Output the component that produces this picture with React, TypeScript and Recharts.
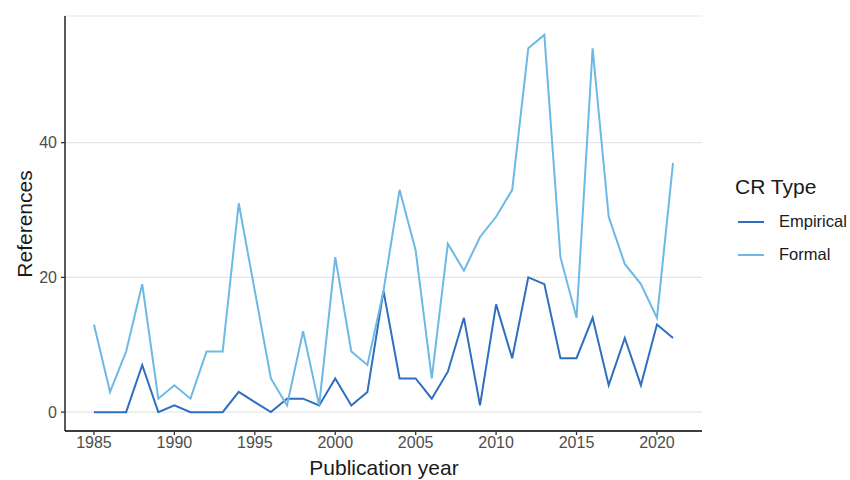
import { LineChart, Line, XAxis, YAxis, CartesianGrid } from 'recharts'

const years = [
  1985, 1986, 1987, 1988, 1989, 1990, 1991, 1992, 1993, 1994, 1995, 1996, 1997,
  1998, 1999, 2000, 2001, 2002, 2003, 2004, 2005, 2006, 2007, 2008, 2009, 2010,
  2011, 2012, 2013, 2014, 2015, 2016, 2017, 2018, 2019, 2020, 2021,
]
const empirical = [
  0, 0, 0, 7, 0, 1, 0, 0, 0, 3, 1.5, 0, 2, 2, 1, 5, 1, 3, 18, 5, 5, 2, 6, 14, 1,
  16, 8, 20, 19, 8, 8, 14, 4, 11, 4, 13, 11,
]
const formal = [
  13, 3, 9, 19, 2, 4, 2, 9, 9, 31, 18, 5, 1, 12, 1, 23, 9, 7, 18, 33, 24, 5, 25,
  21, 26, 29, 33, 54, 56, 23, 14, 54, 29, 22, 19, 14, 37,
]
const xTicks = [1985, 1990, 1995, 2000, 2005, 2010, 2015, 2020]
const yTicks = [0, 20, 40]

const series = [
  { key: 'Empirical', color: '#2f6fbf' },
  { key: 'Formal', color: '#6cb9e6' },
]

const data = years.map((y, i) => ({ year: y, Empirical: empirical[i], Formal: formal[i] }))

const font = '"Liberation Sans", Arial, sans-serif'
const tickStyle = { fill: '#4d4d4d', fontSize: 16, fontFamily: font }

export default function App() {
  return (
    <div style={{ position: 'absolute', left: 0, top: 0, width: 850, height: 480, background: '#fff', fontFamily: font }}>
      <LineChart width={850} height={480} data={data} margin={{ top: 16, right: 148, bottom: 19, left: 10 }}>
        <CartesianGrid vertical={false} stroke="#e6e6e6" strokeWidth={1.2} />
        <XAxis
          dataKey="year"
          type="number"
          domain={[1983.2, 2022.8]}
          ticks={xTicks}
          allowDataOverflow
          height={30}
          stroke="#000"
          strokeWidth={1.3}
          tick={tickStyle}
          tickLine={{ stroke: '#333' }}
          tickSize={4}
          tickMargin={2}
        />
        <YAxis
          type="number"
          domain={[-2.8, 58.8]}
          ticks={yTicks}
          allowDataOverflow
          width={55}
          stroke="#000"
          strokeWidth={1.3}
          tick={tickStyle}
          tickLine={{ stroke: '#333' }}
          tickSize={4}
          tickMargin={4}
        />
        {series.map((s) => (
          <Line
            key={s.key}
            type="linear"
            dataKey={s.key}
            stroke={s.color}
            strokeWidth={2}
            dot={false}
            isAnimationActive={false}
          />
        ))}
      </LineChart>

      <div style={{ position: 'absolute', left: 735, top: 174 }}>
        <div style={{ fontSize: 21, lineHeight: '26px', color: '#1a1a1a', marginBottom: 5 }}>CR Type</div>
        {series.map((s) => (
          <div key={s.key} style={{ display: 'flex', alignItems: 'center', height: 33 }}>
            <span style={{ width: 26, height: 2, background: s.color, marginLeft: 3, marginRight: 15 }} />
            <span style={{ fontSize: 16.5, color: '#1a1a1a' }}>{s.key}</span>
          </div>
        ))}
      </div>

      <div
        style={{
          position: 'absolute',
          left: 384,
          top: 468,
          transform: 'translate(-50%, -50%)',
          fontSize: 21,
          color: '#1a1a1a',
          whiteSpace: 'nowrap',
        }}
      >
        Publication year
      </div>
      <div
        style={{
          position: 'absolute',
          left: 25,
          top: 224,
          transform: 'translate(-50%, -50%) rotate(-90deg)',
          fontSize: 21,
          color: '#1a1a1a',
          whiteSpace: 'nowrap',
        }}
      >
        References
      </div>
    </div>
  )
}
